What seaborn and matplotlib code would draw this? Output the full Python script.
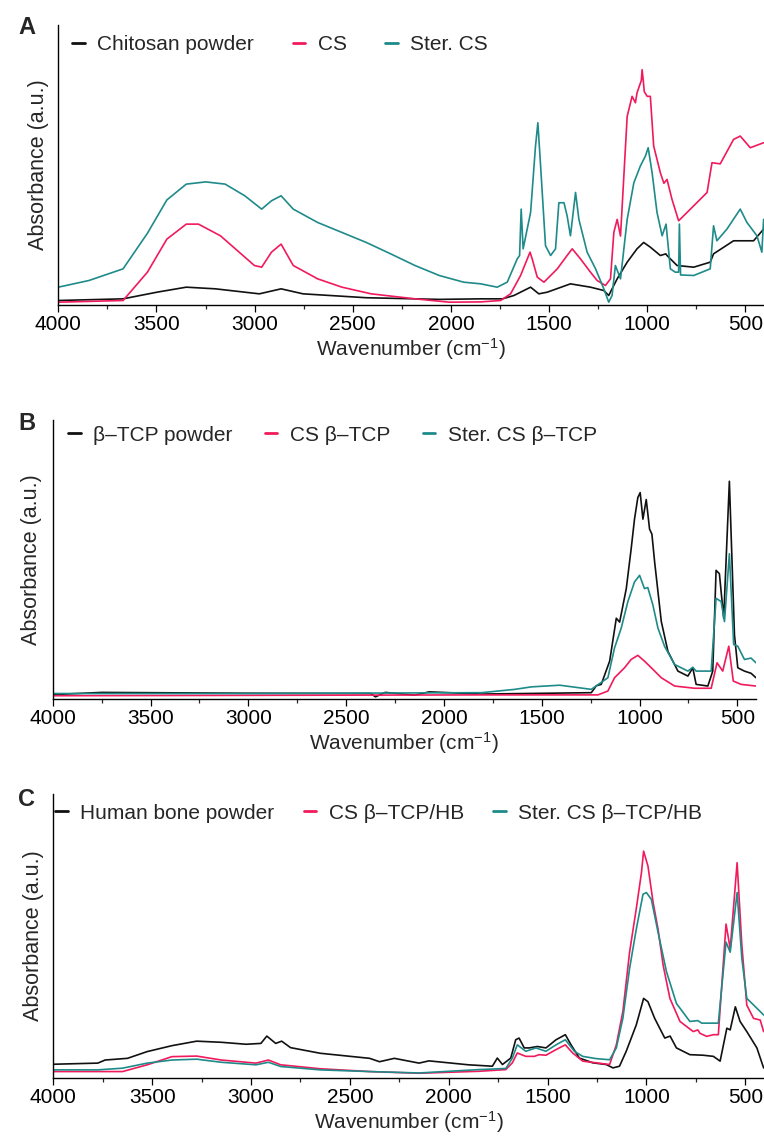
import matplotlib
matplotlib.use("Agg")
import pandas as pd
import matplotlib.pyplot as plt
import seaborn as sns
from matplotlib.lines import Line2D
from matplotlib.ticker import MultipleLocator

# ---- Panel A : chitosan ----
A_WN_POWDER = [4000, 3670, 3497, 3348, 3199, 2976, 2865, 2753, 2431, 2059, 1848, 1737, 1679, 1594,
               1552, 1509, 1391, 1289, 1221, 1196, 1179, 1153, 1102, 1052, 1018, 984, 933, 905, 899,
               848, 763, 679, 662, 560, 458, 407]
A_ABS_POWDER = [0.8, 1.4, 3.8, 5.6, 5.0, 3.2, 5.0, 3.2, 1.8, 1.2, 1.4, 1.4, 2.6, 5.6,
                3.2, 3.8, 6.8, 5.6, 4.4, 2.6, 5.0, 8.6, 14.6, 19.4, 21.7, 20.0, 17.0, 17.6, 17.0,
                13.4, 12.8, 14.6, 17.6, 22.3, 22.3, 26.5]

A_WN_CS = [4000, 3670, 3546, 3447, 3348, 3286, 3174, 3001, 2964, 2914, 2865, 2803, 2679, 2555,
           2406, 2183, 2009, 1848, 1747, 1696, 1645, 1597, 1586, 1560, 1526, 1458, 1408, 1382,
           1340, 1289, 1255, 1213, 1187, 1170, 1153, 1136, 1102, 1085, 1077, 1060, 1052, 1040,
           1030, 1026, 1020, 1015, 1000, 984, 967, 933, 915, 899, 874, 840, 780, 695, 670, 628,
           560, 526, 475, 407]
A_ABS_CS = [0.2, 0.8, 11.0, 22.9, 28.3, 28.3, 24.1, 13.4, 12.8, 18.2, 21.1, 13.4, 8.6, 5.6,
            3.2, 1.4, 0.2, 0.3, 0.8, 3.2, 9.8, 18.2, 15.8, 9.2, 7.4, 12.2, 17.0, 19.4,
            15.8, 11.0, 8.0, 6.2, 8.6, 25.3, 30.0, 24.0, 67.1, 72.0, 74.3, 72.0, 75.5, 78.0,
            80.0, 83.9, 80.0, 76.0, 74.3, 74.3, 56.4, 46.8, 43.0, 44.4, 37.3, 29.5, 33.7, 39.7,
            50.4, 50.0, 58.8, 60.0, 55.8, 57.6]

A_WN_STER = [4000, 3844, 3670, 3546, 3447, 3348, 3249, 3150, 3050, 2964, 2914, 2865, 2803, 2679,
             2555, 2431, 2307, 2183, 2059, 1935, 1848, 1764, 1713, 1662, 1650, 1642, 1632, 1594,
             1569, 1557, 1543, 1518, 1492, 1467, 1450, 1424, 1408, 1391, 1365, 1348, 1306, 1263,
             1221, 1196, 1179, 1162, 1136, 1102, 1068, 1035, 1009, 995, 975, 950, 924, 904, 882,
             857, 840, 836, 830, 763, 679, 662, 645, 594, 526, 492, 441, 416, 407]
A_ABS_STER = [5.6, 8.0, 12.2, 25.0, 37.0, 42.7, 43.5, 42.7, 38.5, 33.7, 36.7, 38.5, 33.7, 28.9,
              25.3, 21.7, 17.6, 13.4, 9.8, 7.4, 6.8, 5.6, 7.4, 15.8, 17.0, 33.7, 19.4, 32.5,
              56.4, 64.8, 49.2, 20.5, 17.0, 19.4, 36.0, 36.0, 31.3, 24.1, 39.7, 30.0, 18.2, 12.2,
              5.0, 0.2, 2.6, 13.4, 8.6, 30.0, 43.2, 49.2, 52.8, 55.8, 46.8, 32.5, 24.1, 28.3, 12.2,
              11.0, 11.0, 28.3, 10.0, 9.8, 12.2, 27.7, 22.3, 26.5, 33.7, 28.9, 24.1, 18.2, 30.0]

# ---- Panel B : beta-TCP ----
B_WN_POWDER = [4000, 3750, 3025, 2375, 2350, 2300, 2150, 2075, 1808, 1247, 1221, 1196, 1153, 1119,
               1102, 1068, 1043, 1026, 1009, 997, 983, 966, 949, 937, 923, 889, 855, 804, 753, 728,
               711, 651, 626, 609, 592, 570, 541, 515, 498, 464, 430, 405]
B_ABS_POWDER = [0.8, 1.6, 1.3, 1.2, 0.0, 1.6, 0.6, 1.8, 1.0, 1.5, 4.0, 4.5, 12.9, 28.4,
                27.0, 39.1, 53.5, 64.2, 72.0, 73.8, 64.2, 71.3, 60.6, 58.8, 48.7, 27.2, 16.4, 9.3,
                7.5, 10.5, 4.5, 3.9, 9.3, 45.7, 44.5, 28.4, 77.9, 22.4, 10.5, 9.3, 8.5, 6.9]

B_WN_CS = [4000, 1808, 1213, 1162, 1128, 1077, 1043, 1009, 975, 940, 889, 821, 719, 634, 604,
           575, 544, 521, 481, 405]
B_ABS_CS = [0.4, 0.7, 0.7, 2.1, 6.9, 10.5, 13.5, 15.0, 12.9, 10.5, 6.9, 3.9, 3.1, 3.1, 12.3,
            9.3, 18.3, 5.7, 4.5, 3.9]

B_WN_STER = [4000, 3000, 1808, 1638, 1553, 1408, 1247, 1162, 1128, 1094, 1060, 1026, 1000, 975,
             958, 932, 906, 872, 821, 753, 728, 711, 634, 609, 583, 566, 541, 519, 498, 464, 430,
             405]
B_ABS_STER = [1.2, 1.2, 1.5, 2.7, 3.6, 4.2, 2.7, 6.9, 17.7, 24.8, 34.4, 41.5, 43.9, 39.1,
              39.5, 33.2, 24.8, 18.2, 11.7, 9.3, 10.7, 9.3, 9.3, 35.6, 34.4, 27.2, 51.7, 18.9,
              18.3, 13.5, 14.0, 12.3]

# ---- Panel C : human bone ----
C_WN_POWDER = [4000, 3775, 3738, 3625, 3525, 3400, 3275, 3150, 3025, 2950, 2920, 2875, 2845, 2800,
               2650, 2400, 2350, 2275, 2150, 2100, 1900, 1779, 1754, 1728, 1686, 1661, 1644, 1618,
               1593, 1551, 1508, 1457, 1410, 1381, 1339, 1271, 1203, 1169, 1136, 1102, 1051, 1014,
               992, 958, 907, 880, 848, 780, 712, 661, 627, 593, 576, 550, 526, 492, 441, 407]
C_ABS_POWDER = [4.0, 4.4, 5.5, 6.1, 8.5, 10.6, 12.2, 11.8, 11.1, 11.4, 14.0, 11.4, 12.2, 9.9,
                7.9, 6.1, 4.9, 6.1, 4.4, 5.2, 3.8, 3.3, 6.2, 3.9, 6.2, 12.7, 13.3, 9.8,
                9.8, 10.3, 9.8, 12.7, 14.5, 10.9, 6.2, 4.5, 3.9, 2.7, 3.3, 8.6, 18.0, 27.4,
                26.2, 20.3, 13.3, 14.0, 9.8, 7.4, 7.2, 6.8, 5.1, 16.8, 16.2, 24.4, 19.2, 15.6,
                9.8, 2.7]

C_WN_CS = [4000, 3650, 3525, 3400, 3275, 3150, 2975, 2912, 2850, 2650, 2400, 2150, 1847, 1711,
           1678, 1653, 1610, 1567, 1542, 1508, 1457, 1410, 1373, 1322, 1254, 1186, 1152, 1119,
           1085, 1051, 1025, 1014, 992, 966, 941, 915, 881, 830, 763, 740, 729, 695, 661, 636,
           597, 576, 541, 517, 492, 458, 424, 407]
C_ABS_CS = [1.4, 1.4, 3.8, 6.7, 6.9, 5.5, 4.4, 5.5, 3.8, 2.4, 1.4, 0.8, 1.5, 2.1,
            4.5, 8.0, 6.8, 6.8, 7.4, 7.2, 9.2, 10.9, 8.0, 5.1, 4.5, 3.9, 10.9, 22.7,
            43.8, 59.3, 72.0, 79.7, 74.4, 61.5, 52.0, 39.1, 27.4, 19.2, 15.6, 16.2, 15.0, 13.9,
            14.5, 14.5, 53.8, 45.0, 75.6, 46.2, 25.0, 20.3, 19.7, 15.6]

C_WN_STER = [4000, 3775, 3650, 3525, 3400, 3275, 3150, 2975, 2912, 2850, 2650, 2400, 2150, 1847,
             1711, 1678, 1653, 1610, 1559, 1508, 1457, 1410, 1364, 1322, 1254, 1186, 1152, 1119,
             1085, 1051, 1017, 1000, 975, 941, 898, 848, 780, 740, 720, 661, 636, 597, 576, 541,
             517, 492, 441, 407]
C_ABS_STER = [2.0, 2.0, 2.6, 4.4, 5.5, 5.8, 4.7, 3.8, 4.7, 3.2, 2.0, 1.4, 0.9, 2.1,
              2.5, 6.2, 10.9, 8.6, 9.8, 8.6, 10.9, 12.7, 8.6, 6.8, 6.0, 5.6, 9.8, 20.3,
              38.0, 52.0, 64.4, 65.0, 62.6, 50.9, 36.8, 25.6, 19.2, 19.5, 18.6, 18.6, 18.6, 47.4,
              43.8, 65.0, 41.5, 27.4, 23.9, 21.5]

PANELS = [
    ("A", ["Chitosan powder", "CS", "Ster. CS"],
     [(A_WN_POWDER, A_ABS_POWDER), (A_WN_CS, A_ABS_CS), (A_WN_STER, A_ABS_STER)]),
    ("B", ["β–TCP powder", "CS β–TCP", "Ster. CS β–TCP"],
     [(B_WN_POWDER, B_ABS_POWDER), (B_WN_CS, B_ABS_CS), (B_WN_STER, B_ABS_STER)]),
    ("C", ["Human bone powder", "CS β–TCP/HB", "Ster. CS β–TCP/HB"],
     [(C_WN_POWDER, C_ABS_POWDER), (C_WN_CS, C_ABS_CS), (C_WN_STER, C_ABS_STER)]),
]

COLORS = ["#111111", "#f01a5c", "#1f8a8a"]

# axes boxes in figure fraction: left, bottom, width, height
BOXES = [[0.0763, 0.7325, 0.9237, 0.2456],
         [0.0690, 0.3868, 0.9205, 0.2447],
         [0.0698, 0.0546, 0.9302, 0.2489]]
LEGEND_POS = [(0.020, 0.929), (0.022, 0.946), (0.003, 0.933)]
COL_SPACING = [1.85, 1.55, 1.4]
YLABEL_X = [-0.013, -0.015, -0.013]
LETTER_Y = [27, 424, 800]
FS = 15

sns.set_theme(style="ticks")
plt.rcParams["font.family"] = ["Liberation Sans", "DejaVu Sans"]
plt.rcParams["mathtext.default"] = "regular"

fig = plt.figure(figsize=(7.64, 11.4), dpi=100)

for i, (letter, labels, series) in enumerate(PANELS):
    ax = fig.add_axes(BOXES[i])
    frames = []
    for lab, (wn, ab) in zip(labels, series):
        frames.append(pd.DataFrame({"wn": wn, "abs": ab, "sample": lab}))
    df = pd.concat(frames, ignore_index=True)

    sns.lineplot(data=df, x="wn", y="abs", hue="sample", hue_order=labels,
                 palette=COLORS, estimator=None, sort=False, linewidth=1.2,
                 legend=False, ax=ax)

    ax.set_xlim(4000, 405)
    ax.set_ylim(-0.8, 100)
    ax.set_yticks([])
    ax.xaxis.set_major_locator(MultipleLocator(500))
    ax.xaxis.set_minor_locator(MultipleLocator(250))
    ax.tick_params(axis="x", which="major", direction="out", length=5, width=0.9,
                   labelsize=FS, pad=2.5, colors="black")
    ax.tick_params(axis="x", which="minor", direction="out", length=3, width=0.9)
    ax.tick_params(axis="y", left=False)
    sns.despine(ax=ax)
    for side in ["left", "bottom"]:
        ax.spines[side].set_color("black")
        ax.spines[side].set_linewidth(1.0)

    ax.set_xlabel("Wavenumber (cm$^{-1}$)", fontsize=FS, labelpad=1.5)
    ax.set_ylabel("Absorbance (a.u.)", fontsize=FS + 0.5)
    ax.yaxis.set_label_coords(YLABEL_X[i], 0.5)

    handles = [Line2D([], [], color=c, linewidth=2) for c in COLORS]
    ax.legend(handles, labels, ncol=3, loc="center left", bbox_to_anchor=LEGEND_POS[i],
              frameon=False, fontsize=FS, handlelength=0.6, handletextpad=0.6,
              columnspacing=COL_SPACING[i], borderpad=0, borderaxespad=0)

    fig.text(18 / 764, 1 - LETTER_Y[i] / 1140, letter, fontsize=17, fontweight="bold",
             ha="left", va="center")

fig.savefig("out.png", dpi=100)
